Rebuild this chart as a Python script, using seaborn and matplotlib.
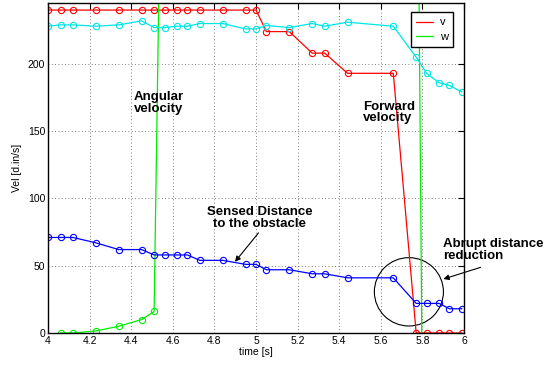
import matplotlib
matplotlib.use("Agg")
import matplotlib.pyplot as plt
import seaborn as sns
from matplotlib.lines import Line2D
from matplotlib.patches import Ellipse

# Data
time_s = [4.00, 4.06, 4.12, 4.23, 4.34, 4.45, 4.51, 4.56, 4.62, 4.67, 4.73, 4.84, 4.95,
          5.00, 5.05, 5.16, 5.27, 5.33, 5.44, 5.66, 5.77, 5.82, 5.88, 5.93, 5.99]
v_forward = [240, 240, 240, 240, 240, 240, 240, 240, 240, 240, 240, 240, 240,
             240, 224, 224, 208, 208, 193, 193, 0, 0, 0, 0, 0]
cyan_series = [228, 229, 229, 228, 229, 232, 227, 227, 228, 228, 230, 230, 226,
               226, 228.5, 227, 230, 228, 231, 228, 205, 193, 186, 184, 179]
distance = [71, 71, 71, 67, 62, 62, 58, 58, 58, 58, 54, 54, 51,
            51, 47, 47, 44, 44, 41, 41, 22, 22, 22, 18, 18]
w_time = time_s[1:]
w_angular = [0, 0, 1.5, 5, 10, 16, 535, 540, 540, 540, 540, 540, 540,
             540, 540, 540, 540, 540, 540, 515, -440, -440, -440, -440]

x_ticks = [4, 4.2, 4.4, 4.6, 4.8, 5, 5.2, 5.4, 5.6, 5.8, 6]
x_ticklabels = ["4", "4.2", "4.4", "4.6", "4.8", "5", "5.2", "5.4", "5.6", "5.8", "6"]
y_ticks = [0, 50, 100, 150, 200]

sns.set_style("white")
plt.rcParams["font.family"] = ["Liberation Sans", "DejaVu Sans"]
plt.rcParams["text.color"] = "black"
plt.rcParams["axes.labelcolor"] = "black"

fig = plt.figure(figsize=(5.52, 3.66), dpi=100)
ax = fig.add_axes([0.087, 0.0902, 0.7536, 0.9025])

mk = dict(marker="o", markersize=4.5, markerfacecolor="none", markeredgewidth=0.8, linewidth=0.9)
sns.lineplot(x=time_s, y=v_forward, color="#ff0000", markeredgecolor="#ff0000", ax=ax, **mk)
sns.lineplot(x=w_time, y=w_angular, color="#00ee00", markeredgecolor="#00ee00", ax=ax, **mk)
sns.lineplot(x=time_s, y=cyan_series, color="#00e5e5", markeredgecolor="#00e5e5", ax=ax, **mk)
sns.lineplot(x=time_s, y=distance, color="#0000ff", markeredgecolor="#0000ff", ax=ax, **mk)

ax.set_xlim(4, 6)
ax.set_ylim(0, 245.5)
ax.set_xticks(x_ticks)
ax.set_xticklabels(x_ticklabels)
ax.set_yticks(y_ticks)
ax.tick_params(direction="in", length=4, width=0.8, labelsize=7.5, pad=2,
               top=True, right=True, colors="black")
ax.grid(True, linestyle=(0, (1, 3)), color="#555555", linewidth=0.6)
for s in ax.spines.values():
    s.set_color("black")
    s.set_linewidth(1.0)

ax.set_xlabel("time [s]", fontsize=7.5, labelpad=1)
ax.set_ylabel("Vel [d.in/s]", fontsize=7.5, labelpad=4)

# annotations
ax.text(4.413, 171, "Angular\nvelocity", fontsize=9.5, fontweight="bold",
        ha="left", va="center", linespacing=0.95)
ax.text(5.513, 164, "Forward\nvelocity", fontsize=9.5, fontweight="bold",
        ha="left", va="center", linespacing=0.95)
ax.text(5.017, 85.5, "Sensed Distance\nto the obstacle", fontsize=9.5, fontweight="bold",
        ha="center", va="center", multialignment="center", linespacing=0.95)
ax.text(5.901, 61.5, "Abrupt distance\nreduction", fontsize=9.5, fontweight="bold",
        ha="left", va="center", linespacing=0.95, clip_on=False)

arrow = dict(arrowstyle="-|>", color="black", lw=0.8, mutation_scale=8, shrinkA=0, shrinkB=0)
ax.annotate("", xy=(4.899, 52.9), xytext=(5.012, 74.4), arrowprops=arrow)
ax.annotate("", xy=(5.901, 40.1), xytext=(6.080, 48.8), arrowprops=arrow,
            annotation_clip=False)

ax.add_patch(Ellipse((5.735, 30.6), 0.332, 50.8, fill=False, edgecolor="black", linewidth=0.8))

handles = [Line2D([], [], color="#ff0000", lw=0.9, label="v"),
           Line2D([], [], color="#00ee00", lw=0.9, label="w")]
leg = ax.legend(handles=handles, loc="upper right", bbox_to_anchor=(0.974, 0.972),
                borderaxespad=0, fontsize=8, fancybox=False, framealpha=1,
                handlelength=1.5, handletextpad=0.6, borderpad=0.5, labelspacing=0.4)
leg.get_frame().set_edgecolor("black")
leg.get_frame().set_linewidth(1.0)

fig.savefig("out.png", dpi=100)
